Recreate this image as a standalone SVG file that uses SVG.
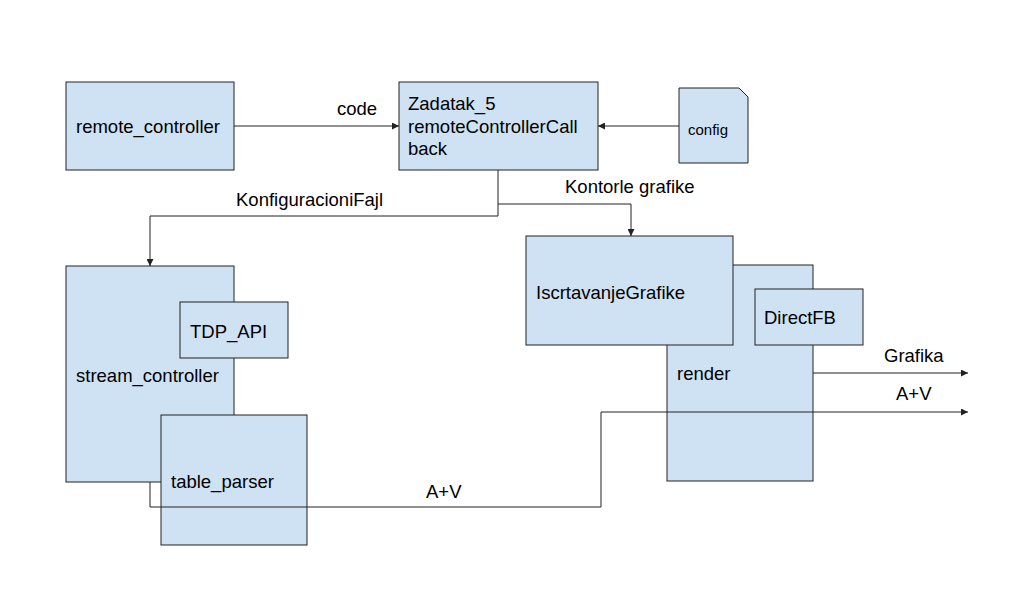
<svg xmlns="http://www.w3.org/2000/svg" width="1010" height="599" viewBox="0 0 1010 599">
<style>
.box{fill:#cfe2f3;stroke:#222;stroke-width:1}
.t{font-family:"Liberation Sans",Arial,sans-serif;font-size:18.5px;fill:#000}
.s{font-size:15px}
.c{fill:none;stroke:#222;stroke-width:1}
</style>
<defs>
<marker id="a" viewBox="0 0 10 10" refX="10" refY="5" markerWidth="7" markerHeight="7" markerUnits="userSpaceOnUse" orient="auto">
<path d="M0,0 L10,5 L0,10 Z" fill="#222"/>
</marker>
</defs>
<rect width="1010" height="599" fill="#fff"/>
<g id="remote_controller"><rect class="box" x="66" y="82" width="168" height="88"/><text class="t" x="76" y="133">remote_controller</text></g>
<g id="zadatak"><rect class="box" x="399" y="82" width="199" height="88"/><text class="t" x="408" y="110">Zadatak_5</text><text class="t" x="408" y="133">remoteControllerCall</text><text class="t" x="408" y="155">back</text></g>
<g id="config"><path class="box" d="M679,88 H739 L748,97 V163 H679 Z"/><text class="t s" x="688" y="135">config</text></g>
<g id="stream_controller"><rect class="box" x="66" y="266" width="168" height="216"/><text class="t" x="76" y="382">stream_controller</text></g>
<g id="tdp_api"><rect class="box" x="180" y="302" width="108" height="56"/><text class="t" x="190" y="338">TDP_API</text></g>
<g id="table_parser"><rect class="box" x="161" y="415" width="146" height="130"/><text class="t" x="171" y="488">table_parser</text></g>
<g id="render"><rect class="box" x="667" y="265" width="146" height="216"/><text class="t" x="677" y="380">render</text></g>
<g id="iscrtavanje"><rect class="box" x="526" y="236" width="207" height="109"/><text class="t" x="536" y="299">IscrtavanjeGrafike</text></g>
<g id="directfb"><rect class="box" x="755" y="289" width="108" height="56"/><text class="t" x="764" y="324">DirectFB</text></g>
<g id="connectors">
<path class="c" d="M234,126 H399" marker-end="url(#a)"/>
<path class="c" d="M679,126 H598" marker-end="url(#a)"/>
<path class="c" d="M498,170 V216 H150 V266" marker-end="url(#a)"/>
<path class="c" d="M498,204 H631 V236" marker-end="url(#a)"/>
<path class="c" d="M813,373 H968" marker-end="url(#a)"/>
<path class="c" d="M150,482 V507 H601 V412 H968" marker-end="url(#a)"/>
</g>
<g id="labels">
<text class="t" x="337" y="115">code</text>
<text class="t" x="236" y="206">KonfiguracioniFajl</text>
<text class="t" x="565" y="193">Kontorle grafike</text>
<text class="t" x="884" y="362">Grafika</text>
<text class="t" x="896" y="400">A+V</text>
<text class="t" x="426" y="498">A+V</text>
</g>
</svg>
